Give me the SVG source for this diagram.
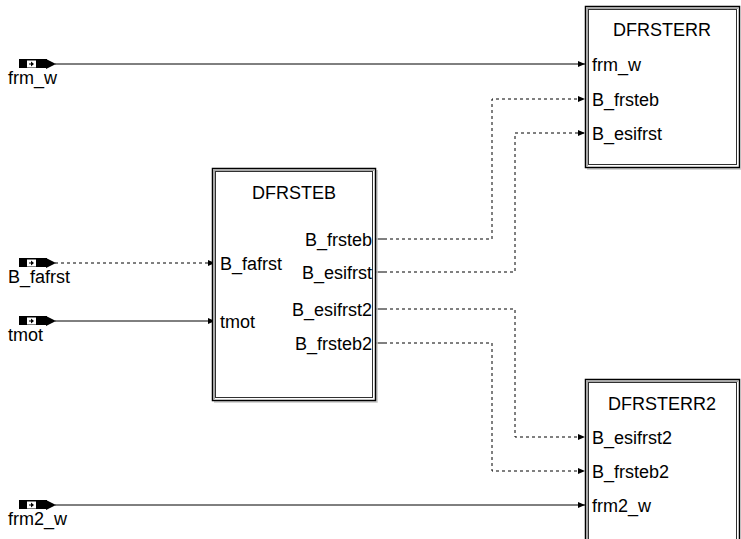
<svg xmlns="http://www.w3.org/2000/svg" width="741" height="539" viewBox="0 0 741 539">
<style>
text{font-family:"Liberation Sans",Arial,sans-serif;font-size:18px;fill:#000}
.t{text-anchor:middle}
.r{text-anchor:end}
.w{fill:none;stroke:#000;stroke-width:1}
.d{fill:none;stroke:#000;stroke-width:1;stroke-dasharray:3,3}
.ob{fill:#fff;stroke:#000;stroke-width:1.5}
.bv{fill:none;stroke:#a8a8a8;stroke-width:2}
.ib{fill:none;stroke:#303030;stroke-width:1}
.sh{fill:none;stroke:#c8c8c8;stroke-width:1.5}
</style>
<defs>
<marker id="a" markerWidth="8" markerHeight="8" refX="7" refY="4" orient="auto" markerUnits="userSpaceOnUse">
<path d="M0,1 L7,4 L0,7 z" fill="#000"/>
</marker>
<g id="icon">
<rect x="19" y="-5" width="28" height="9" fill="#000"/>
<rect x="27" y="-3.5" width="9" height="7" fill="#fff"/>
<path d="M29,-0.5 h2 v-2 l3,2.5 l-3,2.5 v-2 h-2 z" fill="#000"/>
<path d="M46,-5 L56,0 L46,5 z" fill="#000"/>
</g>
</defs>

<g id="connectors">
<line class="w" x1="55" y1="64" x2="585" y2="64" marker-end="url(#a)"/>
<line class="d" x1="55" y1="263" x2="215" y2="263" marker-end="url(#a)"/>
<line class="w" x1="55" y1="321" x2="215" y2="321" marker-end="url(#a)"/>
<line class="w" x1="55" y1="505" x2="585" y2="505" marker-end="url(#a)"/>
<line class="w" x1="376" y1="239" x2="384" y2="239"/>
<polyline class="d" points="384,239 492,239 492,99 585,99" marker-end="url(#a)"/>
<line class="w" x1="376" y1="272" x2="384" y2="272"/>
<polyline class="d" points="384,272 515,272 515,133 585,133" marker-end="url(#a)"/>
<line class="w" x1="376" y1="309" x2="384" y2="309"/>
<polyline class="d" points="384,309 515,309 515,437 585,437" marker-end="url(#a)"/>
<line class="w" x1="376" y1="343" x2="384" y2="343"/>
<polyline class="d" points="384,343 492,343 492,471 585,471" marker-end="url(#a)"/>
</g>

<g id="in_frm_w"><use href="#icon" y="64"/><text x="8" y="84">frm_w</text></g>
<g id="in_B_fafrst"><use href="#icon" y="263"/><text x="8" y="283">B_fafrst</text></g>
<g id="in_tmot"><use href="#icon" y="321"/><text x="8" y="341">tmot</text></g>
<g id="in_frm2_w"><use href="#icon" y="505"/><text x="8" y="525">frm2_w</text></g>

<g id="DFRSTEB">
<polyline class="sh" points="377,170 377,402 214,402"/>
<rect class="ob" x="212.5" y="168.5" width="163" height="232"/>
<polyline class="bv" points="214,399 214,170 374,170"/>
<rect class="ib" x="215.5" y="171.5" width="157" height="226"/>
<text class="t" x="294" y="199">DFRSTEB</text>
<text x="220" y="270">B_fafrst</text>
<text x="220" y="328">tmot</text>
<text class="r" x="372" y="246">B_frsteb</text>
<text class="r" x="372" y="279">B_esifrst</text>
<text class="r" x="372" y="316">B_esifrst2</text>
<text class="r" x="372" y="350">B_frsteb2</text>
</g>

<g id="DFRSTERR">
<polyline class="sh" points="742,8 742,169 587,169"/>
<rect class="ob" x="585.5" y="6.5" width="154" height="161"/>
<polyline class="bv" points="587,166 587,8 738,8"/>
<rect class="ib" x="588.5" y="9.5" width="148" height="155"/>
<text class="t" x="662" y="36">DFRSTERR</text>
<text x="592" y="71">frm_w</text>
<text x="592" y="106">B_frsteb</text>
<text x="592" y="140">B_esifrst</text>
</g>

<g id="DFRSTERR2">
<rect class="ob" x="585.5" y="379.5" width="154" height="170"/>
<polyline class="bv" points="587,545 587,381 738,381"/>
<rect class="ib" x="588.5" y="382.5" width="148" height="170"/>
<text class="t" x="662" y="410">DFRSTERR2</text>
<text x="592" y="444">B_esifrst2</text>
<text x="592" y="478">B_frsteb2</text>
<text x="592" y="512">frm2_w</text>
</g>
</svg>
